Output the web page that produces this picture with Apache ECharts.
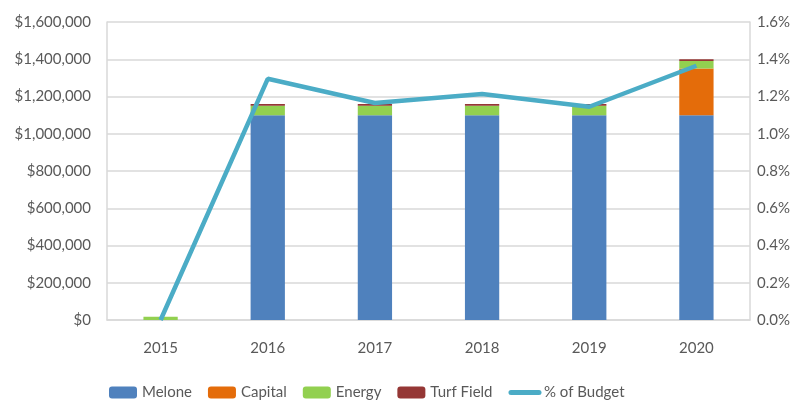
<!DOCTYPE html>
<html>
<head>
<meta charset="utf-8">
<script src="https://cdn.jsdelivr.net/npm/echarts@6/dist/echarts.min.js"></script>
<style>
  html, body { margin: 0; padding: 0; background: #fff; }
  #chart { width: 803px; height: 400px; }
</style>
</head>
<body>
<div id="chart"></div>
<script>
// data
var years = ['2015', '2016', '2017', '2018', '2019', '2020'];
var melone = [0, 1100000, 1100000, 1100000, 1100000, 1100000];
var capital = [0, 0, 0, 0, 0, 250000];
var energy = [18000, 50000, 50000, 50000, 50000, 40000];
var turf = [0, 10000, 10000, 10000, 10000, 10000];
var pctBudget = [0.0, 1.295, 1.165, 1.213, 1.145, 1.365];

var textColor = '#595959';
var gridColor = '#d9d9d9';
var font = 'Lato';

function money(v) {
    return '$' + v.toString().replace(/\B(?=(\d{3})+(?!\d))/g, ',');
}

var myChart = echarts.init(document.getElementById('chart'));
myChart.setOption({
    animation: false,
    grid: { left: 107, right: 53, top: 22, bottom: 80 },
    legend: {
        top: 380,
        left: 104,
        itemWidth: 28,
        itemHeight: 12,
        itemGap: 16,
        textStyle: { color: textColor, fontSize: 15, fontFamily: font },
        data: ['Melone', 'Capital', 'Energy', 'Turf Field', {
            name: '% of Budget',
            itemStyle: { opacity: 0 },
            lineStyle: { width: 5, cap: 'round' }
        }]
    },
    xAxis: {
        type: 'category',
        data: years,
        axisLine: { lineStyle: { color: gridColor, width: 1.5 } },
        axisTick: { show: false },
        axisLabel: { color: textColor, fontSize: 15, fontFamily: font, margin: 21 }
    },
    yAxis: [{
        type: 'value',
        min: 0,
        max: 1600000,
        interval: 200000,
        axisLine: { show: true, lineStyle: { color: gridColor, width: 1.5 } },
        axisTick: { show: false },
        splitLine: { lineStyle: { color: gridColor, width: 1.5 } },
        axisLabel: { color: textColor, fontSize: 15, fontFamily: font, margin: 16, formatter: money }
    }, {
        type: 'value',
        min: 0,
        max: 1.6,
        interval: 0.2,
        axisLine: { show: true, lineStyle: { color: gridColor, width: 1.5 } },
        axisTick: { show: false },
        splitLine: { show: false },
        axisLabel: {
            color: textColor, fontSize: 15, fontFamily: font, margin: 7,
            formatter: function(v) { return v.toFixed(1) + '%'; }
        }
    }],
    series: [{
        name: 'Melone', type: 'bar', stack: 'a', barWidth: '32%',
        itemStyle: { color: '#4f81bd' }, data: melone
    }, {
        name: 'Capital', type: 'bar', stack: 'a',
        itemStyle: { color: '#e46c0a' }, data: capital
    }, {
        name: 'Energy', type: 'bar', stack: 'a',
        itemStyle: { color: '#92d050' }, data: energy
    }, {
        name: 'Turf Field', type: 'bar', stack: 'a',
        itemStyle: { color: '#953735' }, data: turf
    }, {
        name: '% of Budget', type: 'line', yAxisIndex: 1,
        symbol: 'none',
        lineStyle: { color: '#4bacc6', width: 4.5 },
        itemStyle: { color: '#4bacc6' },
        data: pctBudget
    }]
});
</script>
</body>
</html>
